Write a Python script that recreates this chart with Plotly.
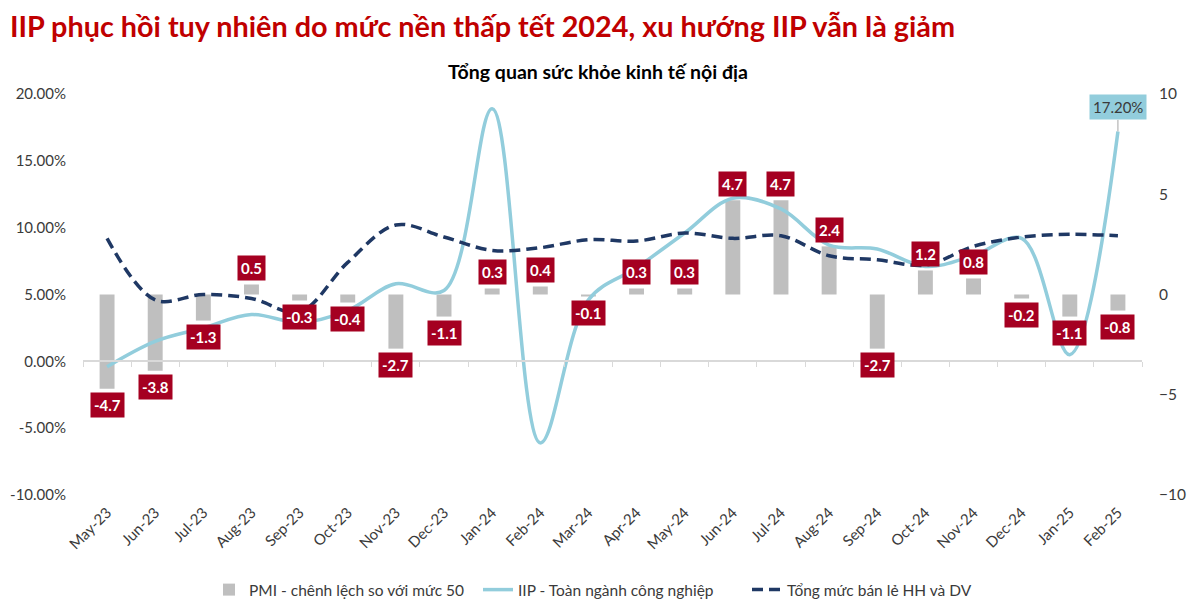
import plotly.graph_objects as go

months = ["May-23", "Jun-23", "Jul-23", "Aug-23", "Sep-23", "Oct-23", "Nov-23", "Dec-23",
          "Jan-24", "Feb-24", "Mar-24", "Apr-24", "May-24", "Jun-24", "Jul-24", "Aug-24",
          "Sep-24", "Oct-24", "Nov-24", "Dec-24", "Jan-25", "Feb-25"]
pmi_gap = [-4.7, -3.8, -1.3, 0.5, -0.3, -0.4, -2.7, -1.1, 0.3, 0.4, -0.1, 0.3, 0.3,
           4.7, 4.7, 2.4, -2.7, 1.2, 0.8, -0.2, -1.1, -0.8]
iip = [-0.4, 1.5, 2.5, 3.5, 2.9, 3.8, 5.8, 5.3, 18.9, -6.1, 4.6, 7.0, 9.6,
       12.2, 11.4, 8.7, 8.4, 7.1, 7.9, 9.2, 0.5, 17.2]
retail = [9.2, 4.6, 5.0, 4.7, 3.7, 7.4, 10.2, 9.3, 8.3, 8.5, 9.1, 9.0, 9.6,
          9.2, 9.4, 7.9, 7.6, 7.2, 8.6, 9.3, 9.5, 9.4]

FONT = "Lato"
TXT = "#3a3a3a"

fig = go.Figure()
fig.add_trace(go.Bar(x=months, y=pmi_gap, name="PMI - chênh lệch so với mức 50",
                     marker=dict(color="#bfbfbf", line=dict(width=0)), width=0.31,
                     xaxis="x", yaxis="y"))
fig.add_trace(go.Scatter(x=months, y=iip, name="IIP - Toàn ngành công nghiệp", mode="lines",
                         line=dict(color="#92cddc", width=3.5, shape="spline", smoothing=1.0),
                         xaxis="x", yaxis="y2"))
fig.add_trace(go.Scatter(x=months, y=retail, name="Tổng mức bán lẻ HH và DV", mode="lines",
                         line=dict(color="#1f3864", width=3.5, shape="spline", smoothing=1.0,
                                   dash="11px,6px"),
                         xaxis="x", yaxis="y2"))
# helper trace for the category axis line drawn at 0%
fig.add_trace(go.Scatter(x=months, y=[None] * len(months), xaxis="x2", yaxis="y2",
                         showlegend=False, hoverinfo="skip", mode="lines"))

ann = []
for m, v in zip(months, pmi_gap):
    ann.append(dict(x=m, y=v, xref="x", yref="y", text=f"{v:.1f}", showarrow=False,
                    yanchor="bottom" if v >= 0 else "top", yshift=3 if v >= 0 else -3,
                    bgcolor="#a50021", borderpad=3,
                    font=dict(family=FONT, size=15, color="white", weight="bold")))
ann.append(dict(x=months[-1], y=iip[-1], xref="x", yref="y2", text=f"{iip[-1]:.2f}%",
                showarrow=True, arrowhead=0, arrowwidth=1, arrowcolor="#a6a6a6",
                ax=0, ay=-24, bgcolor="#92cddc", borderpad=3,
                font=dict(family=FONT, size=15, color=TXT)))
ann.append(dict(x=0.486, y=1.055, xref="paper", yref="paper", text="Tổng quan sức khỏe kinh tế nội địa",
                showarrow=False, xanchor="center", yanchor="middle",
                font=dict(family=FONT, size=19.5, color="black", weight="bold")))

fig.update_layout(
    width=1200, height=613,
    margin=dict(l=83, r=58, t=94, b=118, autoexpand=False),
    paper_bgcolor="white", plot_bgcolor="white",
    font=dict(family=FONT, size=14, color=TXT),
    title=dict(text="IIP phục hồi tuy nhiên do mức nền thấp tết 2024, xu hướng IIP vẫn là giảm",
               xref="container", yref="container", x=10 / 1200, y=1 - 27 / 613,
               xanchor="left", yanchor="middle",
               font=dict(family=FONT, size=28.8, color="#c00000", weight="bold")),
    xaxis=dict(type="category", range=[-0.5, 21.5], showline=False, ticks="",
               tickangle=-45, tickfont=dict(size=15, color=TXT), showgrid=False,
               ticklabelstandoff=5),
    xaxis2=dict(type="category", range=[-0.5, 21.5], overlaying="x", anchor="free",
                position=1 / 3, showline=True, linecolor="#d9d9d9", linewidth=1.5,
                ticks="outside", tickson="boundaries", ticklen=5, tickcolor="#d9d9d9",
                showticklabels=False, showgrid=False),
    yaxis=dict(range=[-10, 10], side="right", tickvals=[-10, -5, 0, 5, 10],
               showgrid=False, zeroline=False, showline=False,
               tickfont=dict(size=15.5, color=TXT), ticklabelstandoff=16),
    yaxis2=dict(range=[-10, 20], side="left", overlaying="y", tickvals=[-10, -5, 0, 5, 10, 15, 20],
                ticktext=[f"{v:.2f}%" for v in [-10, -5, 0, 5, 10, 15, 20]],
                showgrid=False, zeroline=False, showline=False,
                tickfont=dict(size=15, color=TXT), ticklabelstandoff=16),
    legend=dict(orientation="h", x=0.5, xanchor="center", y=-0.237, yanchor="middle",
                font=dict(size=15.5, color=TXT), itemwidth=30, traceorder="normal",
                entrywidth=224),
    annotations=ann,
    bargap=0.69,
)

fig.write_html("out.html", config={"displayModeBar": False},
               post_script="document.body.style.margin='0';")
